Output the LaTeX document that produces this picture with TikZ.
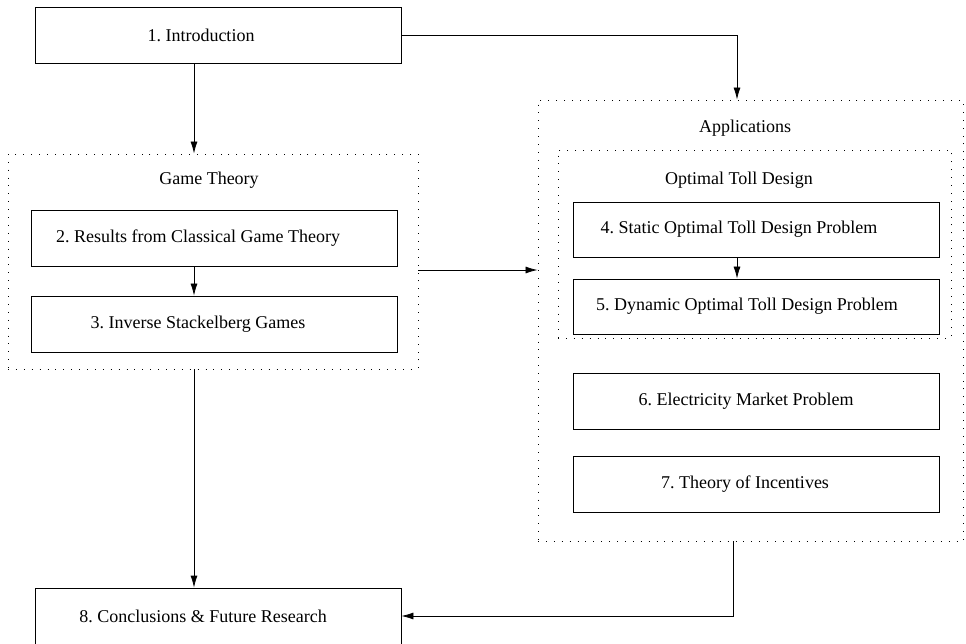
\documentclass[tikz,border=0pt]{standalone}
\usepackage{fontspec}
\setmainfont{Liberation Serif}
\usetikzlibrary{arrows.meta}
\newcommand\shl[2]{#2\hspace*{#1}}
\frenchspacing
\begin{document}
\begin{tikzpicture}[x=1pt,y=-1pt,
  every node/.style={font=\fontsize{18}{22}\selectfont, inner sep=0pt},
  bx/.style={draw, line width=0.8pt, minimum width=366pt, minimum height=56pt},
  grp/.style={draw, line width=0.9pt, dash pattern=on 0.9pt off 7pt},
  lbl/.style={anchor=center},
  arr/.style={line width=0.8pt, -{Latex[length=12pt,width=7pt]}},
  ln/.style={line width=0.8pt}]
\useasboundingbox (0,0) rectangle (966,644);
% column coordinates
\coordinate (cl) at (194,0);
\coordinate (cr) at (737,0);
\coordinate (cr2) at (733,0);
\coordinate (ym) at (0,270);
% groups
\node[grp, minimum width=410pt, minimum height=215pt] (gt) at (213,261.5) {};
\node[lbl] (gtl) at (209,180) {Game Theory};
\node[grp, minimum width=425pt, minimum height=441pt] (app) at (750.5,320.5) {};
\node[lbl] (appl) at (745,128) {Applications};
\node[grp, minimum width=393pt, minimum height=188pt] (toll) at (754.5,244) {};
\node[lbl] (tolll) at (739,180) {Optimal Toll Design};
% boxes
\node[bx] (b1) at (218,35) {\shl{34pt}{1. Introduction}};
\node[bx] (b2) at (214,238) {\shl{32pt}{2. Results from Classical Game Theory}};
\node[bx] (b3) at (214,324) {\shl{32pt}{3. Inverse Stackelberg Games}};
\node[bx, minimum height=55pt] (b4) at (756,229.5) {\shl{34pt}{4. Static Optimal Toll Design Problem}};
\node[bx, minimum height=55pt] (b5) at (756,306.5) {\shl{18pt}{5. Dynamic Optimal Toll Design Problem}};
\node[bx] (b6) at (756,401) {\shl{20pt}{6. Electricity Market Problem}};
\node[bx] (b7) at (756,484) {\shl{22pt}{7. Theory of Incentives}};
\node[bx] (b8) at (218,616) {\shl{30pt}{8. Conclusions \& Future Research}};
% connectors
\draw[arr] (b1.south -| cl) -- (gt.north -| cl);
\draw[arr] (b1.east) -| (app.north -| cr);
\draw[arr] (b2.south -| cl) -- (b3.north -| cl);
\draw[arr] (gt.east |- ym) -- (app.west |- ym);
\draw[arr] (b4.south -| cr) -- (b5.north -| cr);
\draw[arr] (gt.south -| cl) -- (b8.north -| cl);
\draw[arr] (app.south -| cr2) |- (b8.east);
\end{tikzpicture}
\end{document}
